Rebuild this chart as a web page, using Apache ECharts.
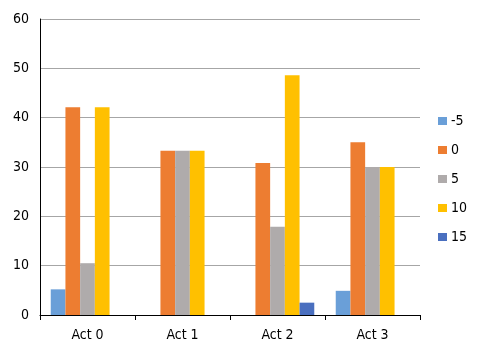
<!DOCTYPE html>
<html><head><meta charset="utf-8">
<script src="https://cdn.jsdelivr.net/npm/echarts@6/dist/echarts.min.js"></script>
<style>html,body{margin:0;padding:0;background:#fff}#c{width:478px;height:354px}</style>
</head><body><div id="c"></div>
<script>
const categories = ['Act 0', 'Act 1', 'Act 2', 'Act 3'];
const seriesNames = ['-5', '0', '5', '10', '15'];
const sMinus5 = [5.2, null, null, 4.9];
const s0 = [42.1, 33.3, 30.8, 35.0];
const s5 = [10.5, 33.3, 17.9, 30.0];
const s10 = [42.1, 33.3, 48.6, 30.0];
const s15 = [null, null, 2.5, null];
const yTicks = [0, 10, 20, 30, 40, 50, 60];
const colors = ['#6a9fd8', '#ed7d31', '#afabab', '#ffc000', '#4a6fbf'];

const values = [sMinus5, s0, s5, s10, s15];
const font = '"DejaVu Sans Condensed", "Liberation Sans Narrow", sans-serif';
const chart = echarts.init(document.getElementById('c'), null, {renderer: 'canvas'});
chart.setOption({
  animation: false,
  color: colors,
  textStyle: {fontFamily: font},
  grid: {left: 40, right: 58, top: 19, bottom: 39, containLabel: false},
  legend: {
    orient: 'vertical', left: 438, top: 114, padding: 0,
    itemWidth: 9, itemHeight: 8, itemGap: 15,
    icon: 'rect',
    textStyle: {fontFamily: font, fontSize: 14, lineHeight: 14, color: '#000', padding: [0, 0, 0, -1]},
    data: seriesNames
  },
  xAxis: {
    type: 'category', data: categories,
    axisLine: {lineStyle: {color: '#000', width: 1}},
    axisTick: {show: true, length: 5, lineStyle: {color: '#000'}},
    axisLabel: {fontFamily: font, fontSize: 14, color: '#000', margin: 13}
  },
  yAxis: {
    type: 'value', min: yTicks[0], max: yTicks[yTicks.length - 1], interval: 10,
    axisLine: {show: true, lineStyle: {color: '#000', width: 1}},
    axisTick: {show: false},
    splitLine: {lineStyle: {color: '#a6a6a6', width: 1}},
    axisLabel: {fontFamily: font, fontSize: 14, color: '#000', margin: 11}
  },
  series: seriesNames.map((n, i) => ({
    name: n, type: 'bar', data: values[i],
    barGap: '0%', barCategoryGap: '22.6%',
    itemStyle: {color: colors[i]}
  }))
});
</script></body></html>
